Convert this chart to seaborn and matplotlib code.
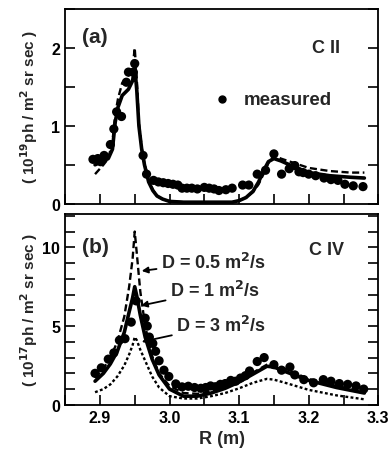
import numpy as np
import pandas as pd
import seaborn as sns
import matplotlib.pyplot as plt
from matplotlib.ticker import MultipleLocator

# --- panel (a) C II ---
cii_meas_r = [2.890, 2.897, 2.901, 2.906, 2.915, 2.920, 2.924, 2.931, 2.938, 2.941, 2.948, 2.950,
              2.962, 2.967, 2.977, 2.984, 2.991, 2.998, 3.005, 3.012, 3.018, 3.025, 3.032,
              3.040, 3.050, 3.057, 3.064, 3.071, 3.081, 3.090, 3.105, 3.114, 3.126, 3.138, 3.150,
              3.161, 3.172, 3.180, 3.186, 3.192, 3.200, 3.210, 3.222, 3.232, 3.242, 3.252,
              3.264, 3.278]
cii_meas = [0.57, 0.58, 0.54, 0.62, 0.76, 0.96, 1.18, 1.12, 1.56, 1.69, 1.69, 1.80,
            0.62, 0.38, 0.30, 0.28, 0.27, 0.26, 0.25, 0.24, 0.20, 0.20, 0.20,
            0.19, 0.21, 0.20, 0.19, 0.17, 0.18, 0.20, 0.24, 0.24, 0.38, 0.43, 0.64,
            0.38, 0.45, 0.49, 0.41, 0.40, 0.38, 0.36, 0.33, 0.31, 0.30, 0.25,
            0.23, 0.22]

cii_r = [2.893, 2.905, 2.912, 2.918, 2.922, 2.926, 2.932, 2.941, 2.947, 2.950, 2.953, 2.956,
         2.960, 2.964, 2.970, 2.976, 2.982, 2.990, 3.000, 3.020, 3.060, 3.090, 3.100, 3.110,
         3.120, 3.128, 3.135, 3.142, 3.150, 3.160, 3.180, 3.200, 3.230, 3.260, 3.280]
cii_solid = [0.50, 0.55, 0.58, 0.70, 1.05, 1.24, 1.39, 1.47, 1.58, 1.77, 1.45, 1.00,
             0.70, 0.50, 0.28, 0.17, 0.10, 0.06, 0.03, 0.02, 0.02, 0.02, 0.04, 0.08,
             0.16, 0.28, 0.42, 0.54, 0.58, 0.55, 0.47, 0.40, 0.36, 0.34, 0.33]
cii_dash = [0.38, 0.50, 0.58, 0.80, 1.15, 1.35, 1.55, 1.65, 1.75, 2.00, 1.60, 1.05,
            0.72, 0.52, 0.30, 0.18, 0.10, 0.06, 0.03, 0.02, 0.02, 0.02, 0.04, 0.08,
            0.15, 0.25, 0.38, 0.52, 0.62, 0.58, 0.52, 0.46, 0.42, 0.40, 0.40]

# --- panel (b) C IV ---
civ_meas_r = [2.893, 2.902, 2.912, 2.920, 2.928, 2.936, 2.945, 2.952, 2.965, 2.968, 2.971,
              2.976, 2.980, 2.985, 2.992, 2.999, 3.009, 3.018, 3.027, 3.036, 3.045, 3.052,
              3.059, 3.066, 3.073, 3.080, 3.088, 3.095, 3.102, 3.109, 3.115, 3.126, 3.136,
              3.150, 3.161, 3.173, 3.180, 3.193, 3.207, 3.221, 3.232, 3.244, 3.256,
              3.268, 3.279]
civ_meas = [2.0, 2.35, 2.9, 3.3, 4.1, 4.2, 5.25, 6.6, 5.5, 5.0, 4.3,
            3.9, 3.4, 2.8, 2.2, 1.8, 1.33, 1.14, 1.18, 1.10, 1.05, 1.10,
            1.20, 1.15, 1.30, 1.35, 1.55, 1.50, 1.70, 1.85, 2.15, 2.75, 3.0,
            2.55, 2.20, 2.40, 1.90, 1.60, 1.40, 1.60, 1.50, 1.35, 1.30,
            1.20, 1.00]

civ_r = [2.893, 2.905, 2.915, 2.925, 2.935, 2.942, 2.947, 2.950, 2.953, 2.958, 2.965, 2.975,
         2.985, 3.000, 3.020, 3.040, 3.060, 3.080, 3.100, 3.120, 3.140, 3.150, 3.170, 3.200,
         3.240, 3.280]
civ_d05 = [1.7, 2.3, 3.0, 4.0, 5.6, 7.5, 9.3, 11.0, 9.6, 7.2, 5.0, 3.1,
           2.0, 1.2, 0.75, 0.70, 0.85, 1.15, 1.55, 2.05, 2.55, 2.60, 2.20, 1.65,
           1.20, 0.85]
civ_d1 = [1.5, 2.0, 2.6, 3.4, 4.6, 5.9, 6.8, 7.5, 6.9, 5.7, 4.3, 2.9,
          1.9, 1.0, 0.55, 0.55, 0.75, 1.05, 1.45, 1.95, 2.45, 2.40, 2.05, 1.55,
          1.10, 0.75]
civ_d3 = [0.8, 1.0, 1.3, 1.8, 2.5, 3.2, 3.8, 4.3, 4.1, 3.5, 2.8, 1.8,
          1.1, 0.55, 0.40, 0.40, 0.55, 0.75, 1.05, 1.40, 1.65, 1.60, 1.35, 0.95,
          0.60, 0.35]

sns.set_style("ticks")
plt.rcParams['font.family'] = ['Liberation Sans', 'DejaVu Sans']
plt.rcParams['font.weight'] = 'bold'
plt.rcParams['axes.labelweight'] = 'bold'

fig = plt.figure(figsize=(3.9, 4.56), dpi=100)
ax1 = fig.add_axes([0.167, 0.551, 0.803, 0.427])
ax2 = fig.add_axes([0.167, 0.110, 0.803, 0.418])

for ax in (ax1, ax2):
    for s in ax.spines.values():
        s.set_linewidth(1.3)
        s.set_color('black')
    ax.tick_params(which='both', direction='in', length=7, width=1.2,
                   right=True, top=False, labelsize=11.5, colors='black')
    ax.xaxis.set_major_locator(MultipleLocator(0.1))
    ax.xaxis.set_minor_locator(MultipleLocator(0.05))
    ax.set_xlim(2.85, 3.3)

dot = 44

# panel a
sns.lineplot(x=cii_r, y=cii_solid, ax=ax1, color='black', lw=2.6)
sns.lineplot(x=cii_r, y=cii_dash, ax=ax1, color='black', lw=1.7, linestyle=(0, (3, 1.5)))
sns.scatterplot(x=cii_meas_r, y=cii_meas, ax=ax1, color='black', s=dot, edgecolor='none')
ax1.set_ylim(0, 2.5)
ax1.yaxis.set_major_locator(MultipleLocator(1))
ax1.yaxis.set_minor_locator(MultipleLocator(0.5))
ax1.tick_params(labelbottom=False)
ax1.set_ylabel('( 10$^{\\bf 19}$ph / m$^{\\bf 2}$ sr sec )', fontsize=11, labelpad=8)
ax1.text(0.054, 0.86, '(a)', transform=ax1.transAxes, fontsize=15, va='center')
ax1.text(0.877, 0.80, 'C II', transform=ax1.transAxes, fontsize=13, ha='right', va='center')
ax1.plot([0.50], [0.536], 'o', color='black', ms=5, transform=ax1.transAxes)
ax1.text(0.57, 0.536, 'measured', transform=ax1.transAxes, fontsize=13.5, va='center')

# panel b
sns.lineplot(x=civ_r, y=civ_d05, ax=ax2, color='black', lw=1.7, linestyle=(0, (3, 1.5)))
sns.lineplot(x=civ_r, y=civ_d1, ax=ax2, color='black', lw=2.6)
sns.lineplot(x=civ_r, y=civ_d3, ax=ax2, color='black', lw=1.7, linestyle=(0, (1.2, 1)))
sns.scatterplot(x=civ_meas_r, y=civ_meas, ax=ax2, color='black', s=dot, edgecolor='none')
ax2.set_ylim(0, 12.1)
ax2.yaxis.set_major_locator(MultipleLocator(5))
ax2.yaxis.set_minor_locator(MultipleLocator(1))
ax2.set_ylabel('( 10$^{\\bf 17}$ph / m$^{\\bf 2}$ sr sec )', fontsize=11, labelpad=2)
ax2.set_xlabel('R (m)', fontsize=13, labelpad=4)
ax2.set_xticks([2.9, 3.0, 3.1, 3.2, 3.3])
ax2.set_xticklabels(['2.9', '3.0', '3.1', '3.2', '3.3'])
ax2.text(0.054, 0.83, '(b)', transform=ax2.transAxes, fontsize=15, va='center')
ax2.text(0.892, 0.817, 'C IV', transform=ax2.transAxes, fontsize=13, ha='right', va='center')

arrow = dict(arrowstyle='-|>', color='black', lw=1.3, mutation_scale=9, shrinkA=1, shrinkB=0)
ax2.annotate('D = 0.5 m$^{\\bf 2}$/s', xy=(2.960, 8.5), xytext=(2.988, 9.1),
             fontsize=13, va='center', arrowprops=arrow)
ax2.annotate('D = 1 m$^{\\bf 2}$/s', xy=(2.959, 6.3), xytext=(3.001, 7.3),
             fontsize=13, va='center', arrowprops=arrow)
ax2.annotate('D = 3 m$^{\\bf 2}$/s', xy=(2.960, 4.0), xytext=(3.010, 5.1),
             fontsize=13, va='center', arrowprops=arrow)

fig.savefig('out.png', dpi=100)
